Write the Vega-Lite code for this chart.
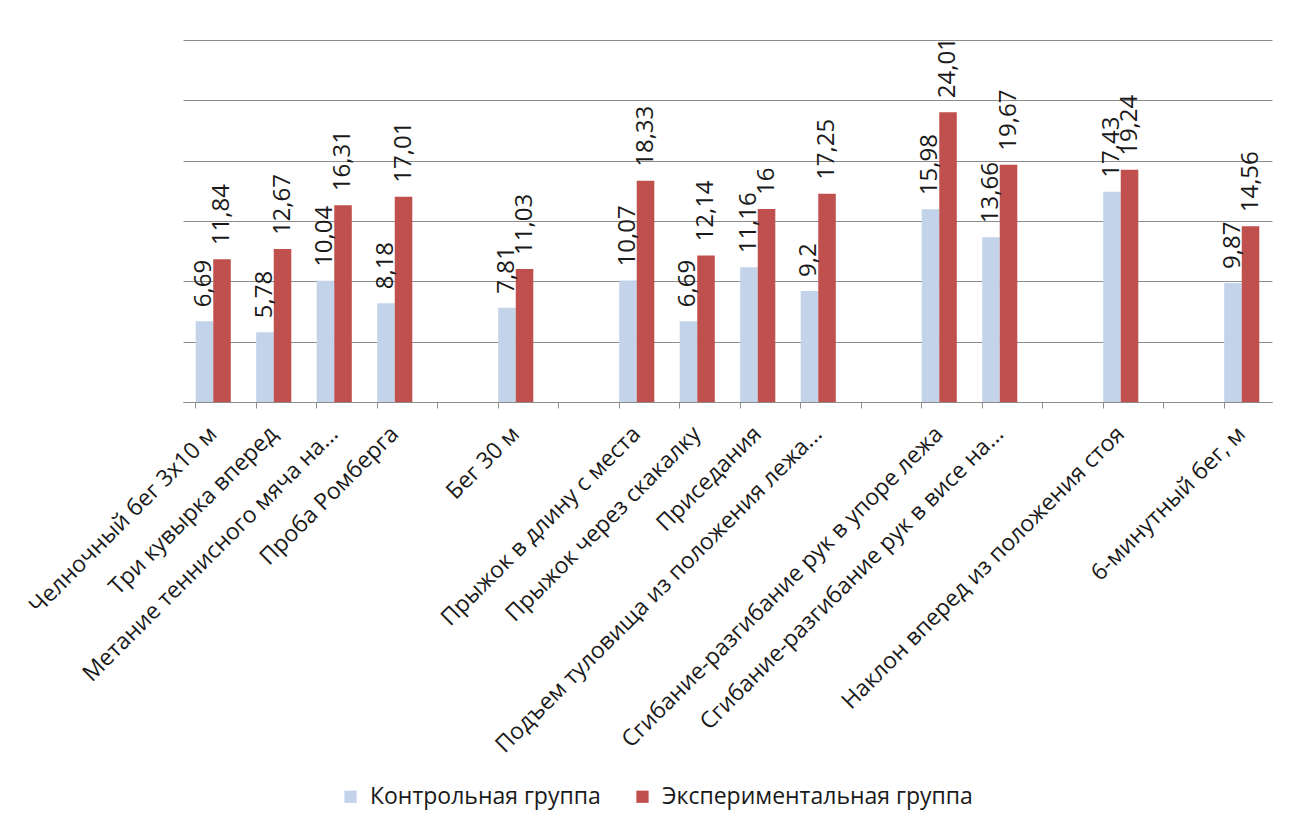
{
  "$schema": "https://vega.github.io/schema/vega-lite/v6.json",
  "autosize": {"type": "none"},
  "width": 1089,
  "height": 362,
  "padding": {"left": 183, "top": 40, "right": 21, "bottom": 429},
  "background": "white",
  "config": {
    "font": "Open Sans",
    "view": {"stroke": null},
    "locale": {"number": {"decimal": ",", "thousands": " ", "grouping": [3], "currency": ["", ""]}}
  },
  "data": {
    "values": [
      {"cat": "Челночный бег 3х10 м", "group": "Контрольная группа", "value": 6.69},
      {"cat": "Челночный бег 3х10 м", "group": "Экспериментальная группа", "value": 11.84},
      {"cat": "Три кувырка вперед", "group": "Контрольная группа", "value": 5.78},
      {"cat": "Три кувырка вперед", "group": "Экспериментальная группа", "value": 12.67},
      {"cat": "Метание теннисного мяча на...", "group": "Контрольная группа", "value": 10.04},
      {"cat": "Метание теннисного мяча на...", "group": "Экспериментальная группа", "value": 16.31},
      {"cat": "Проба Ромберга", "group": "Контрольная группа", "value": 8.18},
      {"cat": "Проба Ромберга", "group": "Экспериментальная группа", "value": 17.01},
      {"cat": "Бег 30 м", "group": "Контрольная группа", "value": 7.81},
      {"cat": "Бег 30 м", "group": "Экспериментальная группа", "value": 11.03},
      {"cat": "Прыжок в длину с места", "group": "Контрольная группа", "value": 10.07},
      {"cat": "Прыжок в длину с места", "group": "Экспериментальная группа", "value": 18.33},
      {"cat": "Прыжок через скакалку", "group": "Контрольная группа", "value": 6.69},
      {"cat": "Прыжок через скакалку", "group": "Экспериментальная группа", "value": 12.14},
      {"cat": "Приседания", "group": "Контрольная группа", "value": 11.16},
      {"cat": "Приседания", "group": "Экспериментальная группа", "value": 16},
      {"cat": "Подъем туловища из положения лежа...", "group": "Контрольная группа", "value": 9.2},
      {"cat": "Подъем туловища из положения лежа...", "group": "Экспериментальная группа", "value": 17.25},
      {"cat": "Сгибание-разгибание  рук в упоре лежа", "group": "Контрольная группа", "value": 15.98},
      {"cat": "Сгибание-разгибание  рук в упоре лежа", "group": "Экспериментальная группа", "value": 24.01},
      {"cat": "Сгибание-разгибание  рук в висе на...", "group": "Контрольная группа", "value": 13.66},
      {"cat": "Сгибание-разгибание  рук в висе на...", "group": "Экспериментальная группа", "value": 19.67},
      {"cat": "Наклон вперед из положения стоя", "group": "Контрольная группа", "value": 17.43},
      {"cat": "Наклон вперед из положения стоя", "group": "Экспериментальная группа", "value": 19.24},
      {"cat": "6-минутный бег, м", "group": "Контрольная группа", "value": 9.87},
      {"cat": "6-минутный бег, м", "group": "Экспериментальная группа", "value": 14.56}
    ]
  },
  "encoding": {
    "x": {
      "field": "cat",
      "type": "nominal",
      "title": null,
      "scale": {
        "domain": [
          "Челночный бег 3х10 м", "Три кувырка вперед", "Метание теннисного мяча на...", "Проба Ромберга", "__e1",
          "Бег 30 м", "__e2", "Прыжок в длину с места", "Прыжок через скакалку", "Приседания",
          "Подъем туловища из положения лежа...", "__e3", "Сгибание-разгибание  рук в упоре лежа",
          "Сгибание-разгибание  рук в висе на...", "__e4", "Наклон вперед из положения стоя", "__e5", "6-минутный бег, м"
        ],
        "paddingInner": 0.42,
        "paddingOuter": 0.21
      },
      "axis": {
        "labelExpr": "indexof(datum.label, '__') == 0 ? '' : datum.label",
        "labelAngle": -45,
        "labelAlign": "right",
        "labelBaseline": "middle",
        "labelFontSize": 23,
        "labelColor": "#1a1a1a",
        "labelLimit": 700,
        "labelPadding": 22,
        "labelOverlap": false,
        "bandPosition": 0,
        "domainColor": "#8c8c8c",
        "tickColor": "#8c8c8c",
        "tickSize": 6,
        "grid": false
      }
    },
    "xOffset": {
      "field": "group",
      "type": "nominal",
      "scale": {"domain": ["Контрольная группа", "Экспериментальная группа"], "paddingInner": 0, "paddingOuter": 0}
    },
    "y": {
      "field": "value",
      "type": "quantitative",
      "title": null,
      "scale": {"domain": [0, 30], "nice": false},
      "axis": {
        "values": [0, 5, 10, 15, 20, 25, 30],
        "labels": false,
        "ticks": false,
        "domain": false,
        "grid": true,
        "gridColor": "#8c8c8c",
        "gridWidth": 1
      }
    }
  },
  "layer": [
    {
      "mark": {"type": "bar"},
      "encoding": {
        "color": {
          "field": "group",
          "type": "nominal",
          "scale": {"domain": ["Контрольная группа", "Экспериментальная группа"], "range": ["#c3d4ea", "#c0504d"]},
          "legend": {
            "title": null,
            "orient": "none",
            "legendX": 156,
            "legendY": 745,
            "direction": "horizontal",
            "symbolType": "square",
            "symbolSize": 150,
            "symbolStrokeWidth": 0,
            "labelFontSize": 23,
            "labelColor": "#1a1a1a",
            "labelOffset": 8,
            "columnPadding": 30,
            "labelLimit": 500
          }
        }
      }
    },
    {
      "mark": {"type": "text", "angle": 270, "align": "left", "baseline": "middle", "dx": 14, "fontSize": 24, "color": "#1a1a1a"},
      "encoding": {
        "text": {"field": "value", "type": "quantitative", "format": "~g"}
      }
    }
  ]
}
